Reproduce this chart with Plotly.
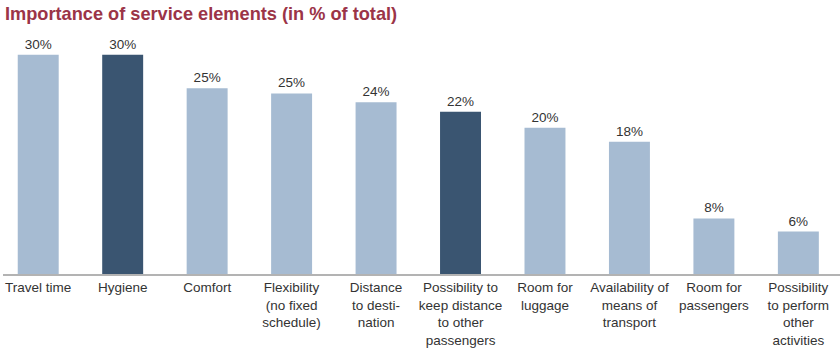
import plotly.graph_objects as go

categories = [
    "Travel time", "Hygiene", "Comfort", "Flexibility<br>(no fixed<br>schedule)",
    "Distance<br>to desti-<br>nation", "Possibility to<br>keep distance<br>to other<br>passengers",
    "Room for<br>luggage", "Availability of<br>means of<br>transport", "Room for<br>passengers",
    "Possibility<br>to perform<br>other<br>activities",
]
values = [30.0, 30.0, 25.4, 24.7, 23.5, 22.2, 20.0, 18.1, 7.6, 5.8]
value_labels = ["30%", "30%", "25%", "25%", "24%", "22%", "20%", "18%", "8%", "6%"]
highlight = [False, True, False, False, False, True, False, False, False, False]

LIGHT = "#a6bbd2"
DARK = "#3a5571"
colors = [DARK if h else LIGHT for h in highlight]

fig = go.Figure(go.Bar(
    x=list(range(len(categories))),
    y=values,
    marker=dict(color=colors, line=dict(width=0)),
    text=value_labels,
    textposition="outside",
    constraintext="none",
    cliponaxis=False,
    textfont=dict(family="Liberation Sans, Arial, sans-serif", size=13.5, color="#333333"),
    hoverinfo="skip",
))

fig.update_layout(
    width=840, height=355,
    margin=dict(l=3, r=0, t=40, b=81),
    paper_bgcolor="white", plot_bgcolor="white",
    bargap=0.515,
    showlegend=False,
    font=dict(family="Liberation Sans, Arial, sans-serif", size=13.5, color="#333333"),
    xaxis=dict(
        range=[-0.417, 9.493],
        tickmode="array",
        tickvals=list(range(len(categories))),
        ticktext=categories,
        showline=True, linecolor="#b3b3b3", linewidth=1.5,
        showgrid=False, zeroline=False, ticks="",
        tickfont=dict(size=13.5, color="#333333"),
        automargin=False,
    ),
    yaxis=dict(range=[0, 32], visible=False, showgrid=False, zeroline=False),
    annotations=[dict(
        text="<b>Importance of service elements (in % of total)</b>",
        xref="paper", yref="paper", x=0, y=1,
        xanchor="left", yanchor="middle",
        yshift=40 - 14,
        showarrow=False,
        font=dict(family="Liberation Sans, Arial, sans-serif", size=18.2, color="#9b3447"),
    )],
)

fig.write_html(
    "out.html",
    config={"displayModeBar": False},
    post_script="document.body.style.margin='0';document.body.style.padding='0';",
)
